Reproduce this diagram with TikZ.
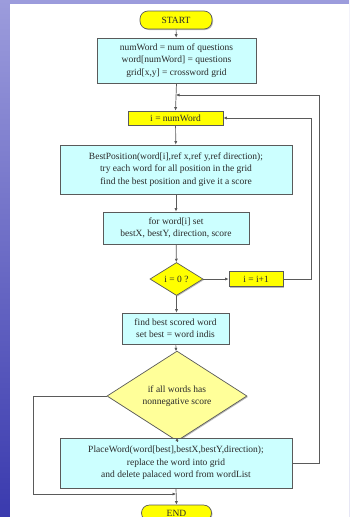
\documentclass[tikz,border=0pt]{standalone}
\usepackage{fontspec}
\setmainfont{Liberation Serif}
\usetikzlibrary{shapes.geometric,arrows.meta,shadows}
\definecolor{bgtop}{HTML}{9C9CDC}
\definecolor{bgbot}{HTML}{3A3AAE}
\definecolor{boxcyan}{HTML}{CCFFFF}
\definecolor{ylw}{HTML}{FFFF00}
\definecolor{paleylw}{HTML}{FFFF99}
\definecolor{edge}{HTML}{5A5A5A}
\definecolor{txt}{HTML}{2A2A2A}
\tikzset{
  base/.style={draw=edge, line width=0.7pt, text=txt, inner sep=0pt, align=center,
    font=\fontsize{9.5}{12.3}\selectfont,
    drop shadow={shadow xshift=1pt, shadow yshift=-1pt, fill=gray!55, opacity=1}},
  procbox/.style={base, rectangle, fill=boxcyan},
  ybox/.style={base, rectangle, fill=ylw},
  pill/.style={base, rectangle, rounded corners=8pt, fill=ylw},
  dia/.style={base, diamond, fill=#1},
  conn/.style={draw=edge, line width=0.7pt},
  arr/.style={conn, -{Latex[length=3.5pt,width=3.2pt]}},
}
\begin{document}
\begin{tikzpicture}[x=1pt,y=-1pt]
\useasboundingbox (0,0) rectangle (349,517);
\clip (0,0) rectangle (349,517);
\shade[top color=bgtop, bottom color=bgbot] (0,0) rectangle (349,517);
\fill[white] (10,4) rectangle (349,517);

\node[pill, minimum width=72pt, minimum height=18pt] (start) at (176,20) {START};
\node[procbox, minimum width=159pt, minimum height=45pt] (init) at (176.5,60.5)
  {numWord = num of questions\\word[numWord] = questions\\grid[x,y] = crossword grid};
\node[ybox, minimum width=95pt, minimum height=14pt] (numw) at (175.5,118) {i = numWord};
\node[procbox, minimum width=232pt, minimum height=49pt] (bestpos) at (176,169.5)
  {BestPosition(word[i],ref x,ref y,ref direction);\\try each word for all position in the grid\\find the best position and give it a score};
\node[procbox, minimum width=146pt, minimum height=32pt] (forw) at (176,228)
  {for word[i] set\\bestX, bestY, direction, score};
\node[dia=ylw, minimum width=53pt, minimum height=33pt] (d1) at (176.5,279) {i = 0 ?};
\node[ybox, minimum width=54pt, minimum height=15pt] (inc) at (256,279) {i = i+1};
\node[procbox, minimum width=107pt, minimum height=31pt] (findbest) at (175.5,328.5)
  {find best scored word\\set best = word indis};
\node[dia=paleylw, minimum width=140pt, minimum height=64pt] (d2) at (177,396)
  {if all words has\\nonnegative score};
\node[procbox, minimum width=232pt, minimum height=50pt] (place) at (176,463)
  {PlaceWord(word[best],bestX,bestY,direction);\\replace the word into grid\\and delete palaced word from wordList};
\node[pill, minimum width=70pt, minimum height=16pt] (endn) at (176.5,513) {END};

\coordinate (j1) at (176,95);
\coordinate (j2) at (176,494);
\coordinate (o1) at (319,463);
\coordinate (o2) at (319,95);
\coordinate (i1) at (311,279);
\coordinate (i2) at (311,118);
\coordinate (l1) at (33,396);
\coordinate (l2) at (33,494);

\draw[arr] (start) -- (init);
\draw[arr] (init.south) -- (numw.north);
\draw[arr] (place.east) -- (o1) -- (o2) -- (j1);
\draw[arr] (numw) -- (bestpos);
\draw[arr] (bestpos) -- (forw);
\draw[arr] (forw) -- (d1);
\draw[arr] (d1) -- (inc);
\draw[arr] (inc.east) -- (i1) -- (i2) -- (numw.east);
\draw[arr] (d1.south) -- (findbest.north -| d1.south);
\draw[arr] (findbest) -- (d2);
\draw[arr] (d2.south) -- (place.north -| d2.south);
\draw[arr] (d2.west) -- (l1) -- (l2) -- (j2);
\draw[arr] (place.south) -- (endn.north);
\end{tikzpicture}
\end{document}
